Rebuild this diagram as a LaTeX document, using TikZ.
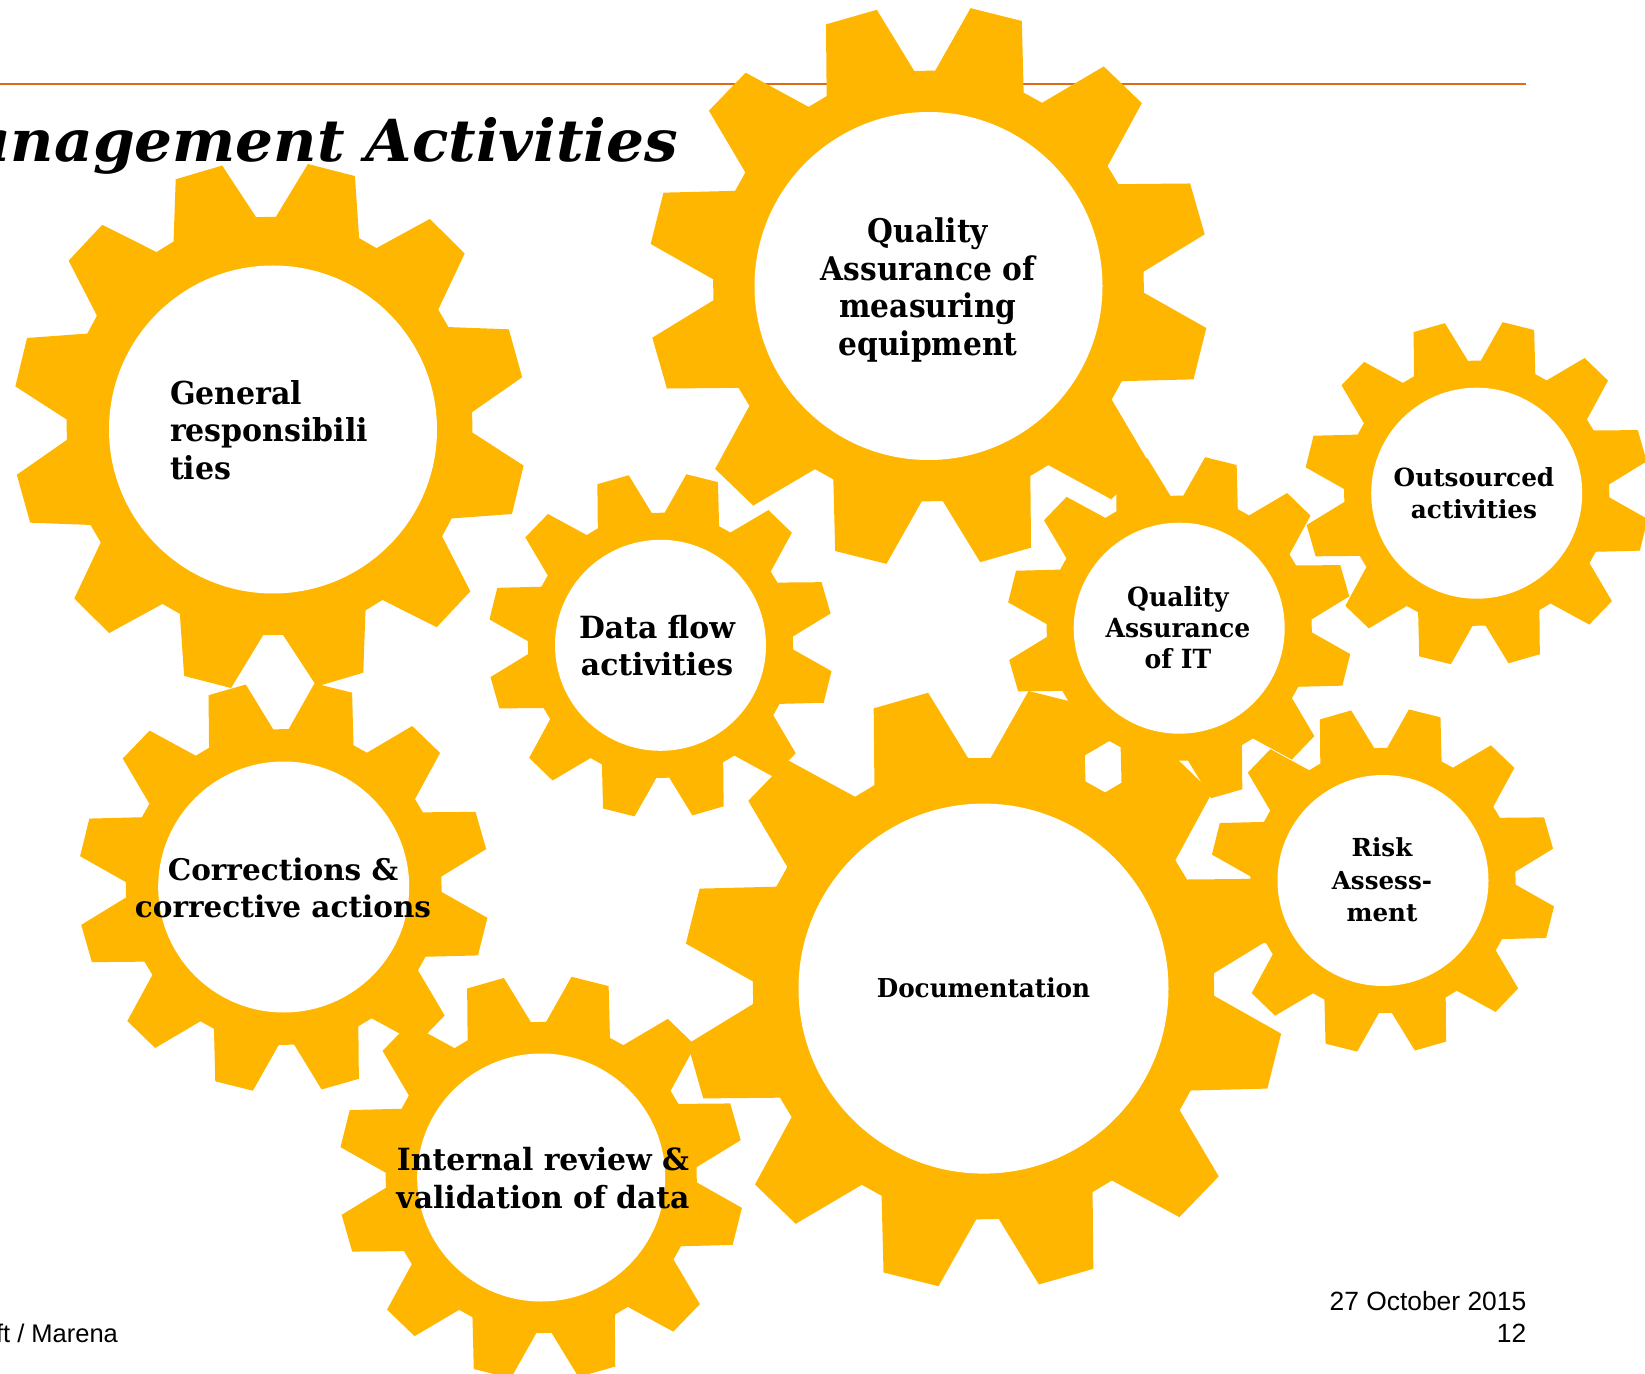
\documentclass[tikz,border=0pt]{standalone}
\usepackage{fontspec}
\newfontfamily\gbA{DejaVu Serif Bold}[FakeStretch=0.91]
\newfontfamily\gbB{DejaVu Serif Bold}[FakeStretch=0.95]
\newfontfamily\gbC{DejaVu Serif Bold}[FakeStretch=0.975]
\newfontfamily\gbD{DejaVu Serif Bold}[FakeStretch=0.99]
\newfontfamily\gbi{DejaVu Serif Bold Italic}[FakeStretch=1.03]
\newfontfamily\arl{Liberation Sans}
\definecolor{gearyel}{RGB}{255,182,0}
\definecolor{ruleorange}{RGB}{222,108,20}
\tikzset{
  gearbody/.style={fill=gearyel},
  gearhole/.style={fill=white},
  gtxt/.style={inner sep=0pt, text=black, align=center},
  foot/.style={inner sep=0pt, text=black},
}
\begin{document}
\begin{tikzpicture}[x=0.5pt,y=-0.5pt]
\useasboundingbox (0,0) rectangle (1645,1374);
\clip (0,0) rectangle (1645,1374);
% orange rule
\coordinate (ruleL) at (0,84);
\coordinate (ruleR) at (1526,84);
\draw[ruleorange, line width=1.35pt] (ruleL) -- (ruleR);
% gear bodies: cx/cy/R/xscale/root ratio
\foreach \cx/\cy/\R/\sx/\rf in {269.5/426/265/0.97/0.79, 928.5/286/281/1/0.767, 660.5/645.3/173/1/0.767, 1476.7/493.2/173/1/0.767, 1179.2/628.2/173/1/0.767, 283.7/887/206/1/0.767, 541.2/1177.5/203/1/0.767, 983.5/988.6/301/1/0.767, 1383/880.5/173/1/0.767}{
  \pgfmathsetmacro\gR{\R}
  \pgfmathsetmacro\gr{\rf*\R}
  \fill[gearbody, shift={(\cx,\cy)}, xscale=\sx] (1.8:\gr) \foreach \t in {14,44,...,344}{ -- (\t-12.2:\gr) -- (\t-5.4:\gR) -- (\t+5.4:\gR) -- (\t+12.2:\gr) } -- cycle;
}
% gear holes
\foreach \cx/\cy/\ri in {273/429.5/164, 928.5/286/174, 660.5/645.3/105.5, 1476.7/493.2/105.5, 1179.2/628.2/105.5, 283.7/887/125.5, 541.2/1177.5/124, 983.5/988.6/185, 1383/880.5/105.5}{
  \fill[gearhole] (\cx,\cy) circle[radius=\ri];
}
% title
\node[inner sep=0pt, anchor=base east, font={\gbi\fontsize{29}{35}\selectfont}] (title) at (678.6,161.5) {anagement Activities};
% labels
\node[gtxt, anchor=west, align=left, font={\gbB\fontsize{15.8}{18.65}\selectfont}] (tGen) at (169.6,430) {General\\responsibili\\ties};
\node[gtxt, font={\gbA\fontsize{16.3}{18.8}\selectfont}] (tQAM) at (928,290) {Quality\\Assurance of\\measuring\\equipment};
\node[gtxt, font={\gbC\fontsize{15.3}{18.5}\selectfont}] (tData) at (657,646) {Data flow\\activities};
\node[gtxt, font={\gbD\fontsize{12.5}{15.8}\selectfont}] (tOut) at (1474,493.3) {Outsourced\\activities};
\node[gtxt, font={\gbB\fontsize{13.2}{15.5}\selectfont}] (tQAIT) at (1178,628) {Quality\\Assurance\\of IT};
\node[gtxt, font={\gbD\fontsize{14.9}{18.65}\selectfont}] (tCorr) at (283,888) {Corrections \&\\corrective actions};
\node[gtxt, font={\gbC\fontsize{15.3}{19.15}\selectfont}] (tInt) at (543,1178) {Internal review \&\\validation of data};
\node[gtxt, font={\gbB\fontsize{13}{16}\selectfont}] (tDoc) at (983.5,988) {Documentation};
\node[gtxt, font={\gbD\fontsize{12.4}{16.25}\selectfont}] (tRisk) at (1382,880) {Risk\\Assess-\\ment};
% footer
\node[foot, anchor=base east, font={\arl\fontsize{12.75}{16}\selectfont}] (ftL) at (118.3,1342.3) {ft / Marena};
\node[foot, anchor=south east, align=right, font={\arl\fontsize{13.2}{16}\selectfont}] (ftR) at (1526.7,1342.7) {27 October 2015\\12};
\end{tikzpicture}
\end{document}
